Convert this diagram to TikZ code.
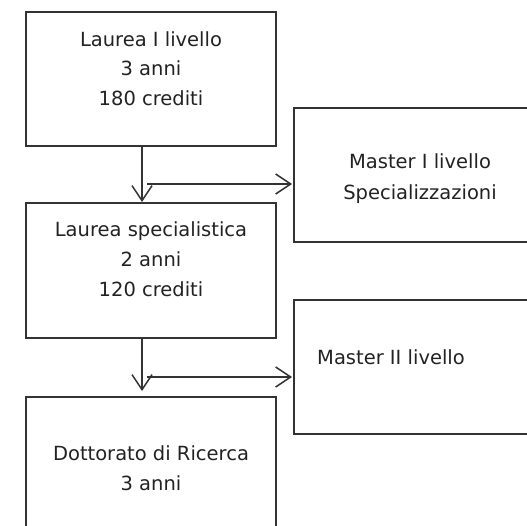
\documentclass[tikz,border=0pt]{standalone}
\usepackage{fontspec}
\setmainfont{DejaVu Sans}
\usetikzlibrary{arrows.meta}
\definecolor{ln}{HTML}{333333}
\definecolor{tx}{HTML}{222222}
\tikzset{
  box/.style={draw=ln, line width=1.5pt, rectangle, inner sep=0pt},
  lbl/.style={text=tx, font=\fontsize{19.5}{29}\selectfont, inner sep=0pt, anchor=base},
  conn/.style={draw=ln, line width=1.5pt, -{Straight Barb[length=15pt,width=20pt,line width=1.5pt]}},
}
\begin{document}
\begin{tikzpicture}[x=1pt,y=-1pt]
\useasboundingbox (0,0) rectangle (527,526);
\clip (0,0) rectangle (527,526);
% boxes
\node[box, minimum width=250pt, minimum height=134pt] (b1) at (151,79) {};
\node[box, minimum width=250pt, minimum height=135pt] (b2) at (151,270.5) {};
\node[box, minimum width=250pt, minimum height=150pt] (b3) at (151,472) {};
\node[box, minimum width=260pt, minimum height=134pt] (m1) at (424,175) {};
\node[box, minimum width=260pt, minimum height=134pt] (m2) at (424,367) {};
% texts
\node[lbl] (t1a) at (151,46.7) {Laurea I livello};
\node[lbl] (t1b) at (151,76) {3 anni};
\node[lbl] (t1c) at (151,105.3) {180 crediti};
\node[lbl] (t2a) at (151,236.7) {Laurea specialistica};
\node[lbl] (t2b) at (151,266.7) {2 anni};
\node[lbl] (t2c) at (151,296.7) {120 crediti};
\node[lbl] (t3a) at (151,460.7) {Dottorato di Ricerca};
\node[lbl] (t3b) at (151,490.7) {3 anni};
\node[lbl] (t4a) at (420,169) {Master I livello};
\node[lbl] (t4b) at (420,199.5) {Specializzazioni};
\node[lbl, anchor=base west] (t5) at (317,364) {Master II livello};
% connectors
\coordinate (a1) at (142,146);
\coordinate (a2) at (142,202);
\coordinate (h1) at (147,184);
\coordinate (h2) at (292,184);
\draw[conn] (a1) -- (a2);
\draw[conn] (h1) -- (h2);
\coordinate (a3) at (142,338);
\coordinate (a4) at (142,391);
\coordinate (h3) at (147,377);
\coordinate (h4) at (292,377);
\draw[conn] (a3) -- (a4);
\draw[conn] (h3) -- (h4);
\end{tikzpicture}
\end{document}
